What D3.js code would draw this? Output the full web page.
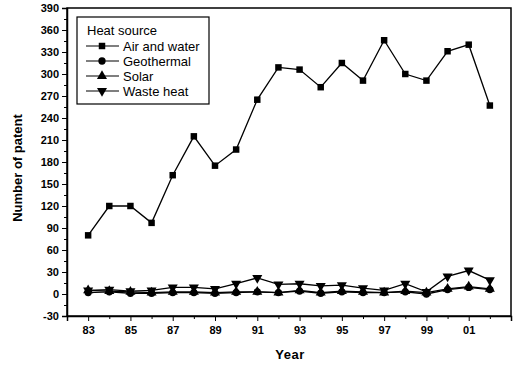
<!DOCTYPE html>
<html>
<head>
<meta charset="utf-8">
<script src="https://cdn.jsdelivr.net/npm/d3@7"></script>
<style>
  body { margin: 0; background: #fff; }
  svg text { font-family: "Liberation Sans", Arial, sans-serif; fill: #000; }
</style>
</head>
<body>
<div id="chart"></div>
<script>
// data
let years = [83, 84, 85, 86, 87, 88, 89, 90, 91, 92, 93, 94, 95, 96, 97, 98, 99, 100, 101, 102];
let yearLabels = ["83", "85", "87", "89", "91", "93", "95", "97", "99", "01"];
let airWater  = [80, 120, 120, 97, 162, 215, 175, 197, 265, 309, 306, 282, 315, 291, 346, 300, 291, 331, 340, 257];
let geothermal = [2, 3, 1, 1, 2, 2, 1, 2, 3, 2, 4, 1, 3, 2, 2, 3, 0, 6, 9, 6];
let solar      = [5, 4, 3, 2, 3, 3, 2, 3, 3, 2, 5, 2, 4, 3, 2, 4, 2, 7, 10, 7];
let wasteHeat  = [5, 6, 4, 5, 9, 9, 7, 14, 22, 13, 14, 11, 12, 8, 5, 14, 3, 24, 32, 19];
let seriesNames = ["Air and water", "Geothermal", "Solar", "Waste heat"];
let yTicks = d3.range(-30, 391, 30);

let width = 513, height = 366;
let pLeft = 67, pRight = 511, pTop = 8, pBottom = 316;

let svg = d3.select('#chart').append('svg')
  .attr('width', width)
  .attr('height', height);

let x = d3.scaleLinear().domain([82, 103]).range([pLeft, pRight]);
let y = d3.scaleLinear().domain([-30, 390]).range([pBottom, pTop]);

// frame
svg.append('rect')
  .attr('x', pLeft).attr('y', pTop)
  .attr('width', pRight - pLeft).attr('height', pBottom - pTop)
  .attr('fill', 'none').attr('stroke', '#000').attr('stroke-width', 1.5);

// y axis
let yAxis = d3.axisLeft(y).tickValues(yTicks).tickSize(5).tickPadding(3).tickFormat(d => String(d));
let gy = svg.append('g').attr('transform', `translate(${pLeft},0)`).call(yAxis);
gy.select('.domain').attr('stroke-width', 1.5);
gy.selectAll('text').style('font-size', '11px').style('font-weight', 'bold');
let gyMinor = svg.append('g').attr('transform', `translate(${pLeft},0)`)
  .call(d3.axisLeft(y).tickValues(yTicks.slice(0, -1).map(d => d + 15)).tickSize(3).tickFormat(''));
gyMinor.select('.domain').remove();

// x axis
let majorYears = years.filter((d, i) => i % 2 === 0);
let xAxis = d3.axisBottom(x).tickValues(majorYears).tickSize(5).tickPadding(5)
  .tickFormat((d, i) => yearLabels[i]);
let gx = svg.append('g').attr('transform', `translate(0,${pBottom})`).call(xAxis);
gx.select('.domain').attr('stroke-width', 1.5);
gx.selectAll('text').style('font-size', '11px').style('font-weight', 'bold');
let gxMinor = svg.append('g').attr('transform', `translate(0,${pBottom})`)
  .call(d3.axisBottom(x).tickValues(years.filter((d, i) => i % 2 === 1)).tickSize(3).tickFormat(''));
gxMinor.select('.domain').remove();

// axis titles
svg.append('text')
  .attr('x', 290).attr('y', 359)
  .attr('text-anchor', 'middle')
  .style('font-size', '13px').style('font-weight', 'bold').style('letter-spacing', '0.5px')
  .text('Year');
svg.append('text')
  .attr('transform', `translate(22,168) rotate(-90)`)
  .attr('text-anchor', 'middle')
  .style('font-size', '13px').style('font-weight', 'bold')
  .text('Number of patent');

// marker shapes
let symbols = [d3.symbolSquare, d3.symbolCircle, d3.symbolTriangle, d3.symbolTriangle];
let symSize = [42, 42, 44, 44];
let rot = [0, 0, 0, 180];
let allSeries = [airWater, geothermal, solar, wasteHeat];

let line = d3.line().x((d, i) => x(years[i])).y(d => y(d));

allSeries.forEach(function(s, k) {
  svg.append('path')
    .datum(s)
    .attr('d', line)
    .attr('fill', 'none')
    .attr('stroke', '#000')
    .attr('stroke-width', 1.3);
  svg.selectAll('.m' + k)
    .data(s)
    .enter()
    .append('path').classed('m' + k, true)
    .attr('d', d3.symbol().type(symbols[k]).size(symSize[k]))
    .attr('transform', (d, i) => `translate(${x(years[i])},${y(d)}) rotate(${rot[k]})`)
    .attr('fill', '#000');
});

// legend
let lg = svg.append('g');
lg.append('rect')
  .attr('x', 77).attr('y', 17).attr('width', 132).attr('height', 87)
  .attr('fill', '#fff').attr('stroke', '#000').attr('stroke-width', 1.2);
lg.append('text').attr('x', 87).attr('y', 35).style('font-size', '13px').text('Heat source');
seriesNames.forEach(function(name, k) {
  let ly = 46 + k * 15;
  lg.append('line').attr('x1', 86).attr('x2', 119).attr('y1', ly).attr('y2', ly)
    .attr('stroke', '#000').attr('stroke-width', 1.2);
  lg.append('path')
    .attr('d', d3.symbol().type(symbols[k]).size(symSize[k]))
    .attr('transform', `translate(102,${ly}) rotate(${rot[k]})`)
    .attr('fill', '#000');
  lg.append('text').attr('x', 123).attr('y', ly + 4.5).style('font-size', '13px').text(name);
});
</script>
</body>
</html>
